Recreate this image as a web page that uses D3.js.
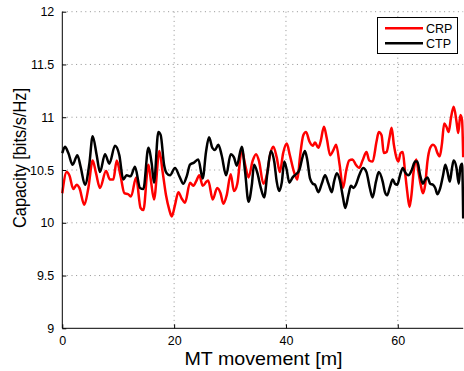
<!DOCTYPE html>
<html><head><meta charset="utf-8">
<script src="https://cdn.jsdelivr.net/npm/d3@7"></script>
<style>
html,body{margin:0;padding:0;background:#fff;}
svg{display:block;font-family:"Liberation Sans",Arial,Helvetica,sans-serif;}
</style></head>
<body>
<svg id="chart" width="464" height="371"></svg>
<script>
// ---- data ----
const ctpX = [0,0.48,1.08,1.85,2.69,3.28,4.06,4.84,5.43,6.15,6.74,7.64,8.41,9.43,10.2,10.9,11.5,12.2,13.0,13.9,14.5,15.39,15.99,16.4,17.18,17.6,18.2,18.67,19.27,20.16,20.94,21.65,22.25,22.84,23.56,24.33,25.11,25.7,26.24,26.84,27.32,27.91,28.5,29.3,30.12,30.7,31.2,32.1,32.7,33.3,33.9,34.3,34.9,35.5,36.1,36.7,37.3,37.9,38.35,38.77,39.25,39.7,40.14,40.6,41.2,41.8,42.4,43.0,43.4,43.8,44.3,44.8,45.2,45.8,46.4,47.0,47.6,48.2,48.6,49.1,49.6,50.2,50.6,51.2,51.6,52.1,52.5,53.1,53.8,54.4,55.0,55.5,56.1,56.6,57.3,57.7,58.1,58.6,59.1,59.5,59.9,60.4,60.9,61.3,61.9,62.5,63.1,63.5,64.0,64.5,64.9,65.3,65.8,66.3,66.7,67.1,67.6,68.1,68.5,68.9,69.3,69.7,70.0,70.5,70.9,71.2,71.5,71.7];
const ctpY = [10.66,10.72,10.66,10.55,10.64,10.53,10.36,10.56,10.82,10.64,10.48,10.65,10.56,10.73,10.64,10.41,10.45,10.44,10.53,10.33,10.32,10.71,10.56,10.38,10.86,10.83,10.55,10.47,10.45,10.52,10.44,10.37,10.44,10.55,10.57,10.60,10.42,10.67,10.81,10.71,10.69,10.74,10.64,10.45,10.65,10.62,10.54,10.72,10.48,10.20,10.36,10.55,10.47,10.33,10.24,10.48,10.68,10.58,10.39,10.30,10.38,10.58,10.50,10.38,10.43,10.46,10.50,10.63,10.68,10.60,10.42,10.37,10.36,10.29,10.37,10.45,10.37,10.29,10.39,10.47,10.41,10.24,10.14,10.27,10.35,10.33,10.36,10.45,10.52,10.48,10.33,10.24,10.39,10.48,10.39,10.29,10.26,10.34,10.41,10.37,10.36,10.45,10.52,10.48,10.45,10.50,10.58,10.58,10.45,10.37,10.41,10.43,10.37,10.36,10.33,10.27,10.33,10.45,10.55,10.48,10.39,10.52,10.59,10.52,10.37,10.53,10.56,10.04];
const crpX = [0,0.78,1.26,1.97,2.57,3.05,3.94,4.66,5.43,6.03,6.74,7.82,8.53,9.13,9.73,10.4,11.1,11.8,12.3,13.2,14.0,14.5,15.39,15.8,16.4,17.36,17.95,18.55,19.15,19.57,20.16,20.76,21.35,21.95,22.84,23.44,24.0,24.5,25.11,25.8,26.1,26.9,27.7,28.3,28.8,29.4,30.12,30.7,31.3,32.1,32.7,33.3,34.06,34.65,35.2,35.96,36.6,37.15,37.75,38.35,38.9,39.5,40.14,40.7,41.45,42.05,42.5,43.1,43.6,44.2,44.8,45.2,45.8,46.2,46.8,47.3,47.9,48.5,48.97,49.6,50.2,50.8,51.3,51.9,52.5,53.1,53.7,54.4,54.9,55.5,56.2,56.6,57.1,57.5,58.0,58.5,58.9,59.3,59.8,60.1,60.5,60.9,61.3,61.7,62.1,62.5,62.8,63.3,63.7,64.1,64.5,64.9,65.3,65.8,66.3,66.7,67.1,67.5,67.9,68.3,68.7,69.1,69.5,70.0,70.5,70.8,71.2,71.5,71.7];
const crpY = [10.28,10.48,10.45,10.32,10.36,10.33,10.17,10.33,10.59,10.47,10.33,10.49,10.41,10.41,10.59,10.45,10.28,10.27,10.25,10.43,10.14,10.12,10.55,10.42,10.22,10.68,10.48,10.26,10.12,10.06,10.17,10.29,10.23,10.19,10.38,10.35,10.40,10.45,10.35,10.39,10.40,10.22,10.33,10.28,10.18,10.26,10.46,10.30,10.37,10.69,10.55,10.43,10.59,10.65,10.58,10.37,10.46,10.64,10.72,10.62,10.48,10.66,10.75,10.64,10.48,10.41,10.62,10.83,10.86,10.77,10.73,10.76,10.71,10.77,10.91,10.80,10.64,10.69,10.74,10.55,10.33,10.50,10.59,10.60,10.55,10.52,10.59,10.67,10.59,10.58,10.77,10.86,10.83,10.66,10.67,10.80,10.90,10.74,10.61,10.58,10.66,10.67,10.48,10.29,10.15,10.29,10.47,10.60,10.48,10.36,10.28,10.36,10.58,10.71,10.74,10.72,10.66,10.63,10.75,10.94,10.91,10.86,10.99,11.10,10.96,10.85,11.02,10.97,10.62];
const xTicks = [0,20,40,60];
const yTicks = [9,9.5,10,10.5,11,11.5,12];
const seriesNames = ["CRP","CTP"];
const seriesColors = ["#ff0000","#000000"];
const xDomain = [0,71.7];
const yDomain = [9,12];
const xLabel = "MT movement [m]";
const yLabel = "Capacity [bits/s/Hz]";

// ---- layout ----
const L = 62.3, R = 463.2, T = 11.7, B = 328.3;
const svg = d3.select("#chart");
const x = d3.scaleLinear().domain(xDomain).range([L, R]);
const y = d3.scaleLinear().domain(yDomain).range([B, T]);

// grid
const grid = svg.append("g").attr("stroke","#777").attr("stroke-width",0.8).attr("stroke-dasharray","1,3.6");
grid.selectAll("line.gy").data(yTicks.filter(v=>v>yDomain[0])).join("line")
  .attr("x1",L).attr("x2",R).attr("y1",d=>y(d)).attr("y2",d=>y(d));
grid.selectAll("line.gx").data(xTicks.filter(v=>v>xDomain[0])).join("line")
  .attr("y1",T).attr("y2",B).attr("x1",d=>x(d)).attr("x2",d=>x(d));

// series
const line = d3.line().x(d=>x(d[0])).y(d=>y(d[1])).curve(d3.curveMonotoneX);
const series = [d3.zip(crpX, crpY), d3.zip(ctpX, ctpY)];
series.forEach((s,i)=>{
  svg.append("path").datum(s).attr("d",line).attr("fill","none")
    .attr("stroke",seriesColors[i]).attr("stroke-width",2.5).attr("stroke-linejoin","round");
});

// axes
const xAxis = d3.axisBottom(x).tickValues(xTicks).tickSize(-4).tickPadding(8).tickFormat(d3.format("d"));
const gx = svg.append("g").attr("transform",`translate(0,${B})`).call(xAxis);
const yAxis = d3.axisLeft(y).tickValues(yTicks).tickSize(-4).tickPadding(8).tickFormat(d=>String(d));
const gy = svg.append("g").attr("transform",`translate(${L},0)`).call(yAxis);
[gx,gy].forEach(g=>{
  g.select(".domain").attr("stroke","#000").attr("stroke-width",1);
  g.selectAll(".tick line").attr("stroke","#000");
  g.selectAll("text").attr("font-size",12.5).attr("fill","#000").attr("font-family","Liberation Sans, Arial, sans-serif");
});
gx.select(".domain").attr("d",`M${L},0H${R}`);
gy.select(".domain").attr("d",`M0,${B}V${T}`);

// axis titles
svg.append("text").attr("x",263.5).attr("y",364.5).attr("text-anchor","middle")
  .attr("font-size",18.5).attr("textLength",158).attr("lengthAdjust","spacingAndGlyphs").text(xLabel);
svg.append("text").attr("transform","translate(25.5,158) rotate(-90)").attr("text-anchor","middle")
  .attr("font-size",18).attr("textLength",140).attr("lengthAdjust","spacingAndGlyphs").text(yLabel);

// legend
const lg = svg.append("g");
lg.append("rect").attr("x",377.5).attr("y",17.5).attr("width",80).attr("height",36)
  .attr("fill","#fff").attr("stroke","#000").attr("stroke-width",1);
seriesNames.forEach((n,i)=>{
  const yy = 28.3 + i*15;
  lg.append("line").attr("x1",385).attr("x2",423).attr("y1",yy).attr("y2",yy)
    .attr("stroke",seriesColors[i]).attr("stroke-width",2.5);
  lg.append("text").attr("x",426).attr("y",yy+4.5).attr("font-size",12.5).text(n);
});
</script>
</body></html>
